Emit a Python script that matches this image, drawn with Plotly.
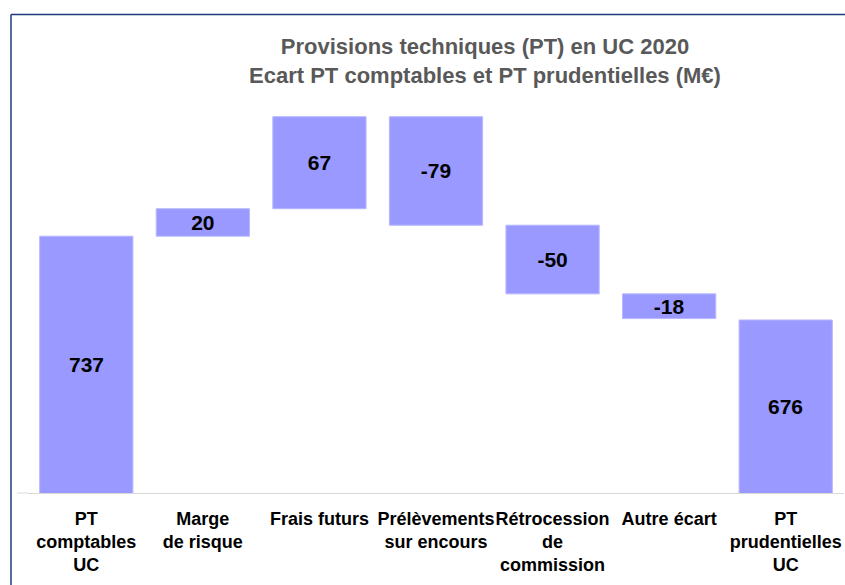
import plotly.graph_objects as go

categories = ["PT<br>comptables<br>UC", "Marge<br>de risque", "Frais futurs",
              "Prélèvements<br>sur encours", "Rétrocession<br>de<br>commission",
              "Autre écart", "PT<br>prudentielles<br>UC"]
measures = ["absolute", "relative", "relative", "relative", "relative", "relative", "absolute"]
values = [737, 20, 67, -79, -50, -18, 676]
labels = ["737", "20", "67", "-79", "-50", "-18", "676"]
y_range = [550, 850]

BAR = "#9999FF"
FONT = "Liberation Sans"
W, H = 845, 585
L, R, T, B = 28, 1, 80.5, 92
pw, ph = W - L - R, H - T - B

def px(x):
    return (x - L) / pw

def py(y):
    return (H - B - y) / ph

textpos = ["none" if m == "absolute" else "inside" for m in measures]
mk = dict(color=BAR, line=dict(color="#b8b8ff", width=1))

fig = go.Figure(go.Waterfall(
    x=categories, y=values, measure=measures,
    text=labels, textposition=textpos, insidetextanchor="middle",
    textangle=0, constraintext="none",
    textfont=dict(family=FONT, size=21, color="black", weight="bold"),
    increasing=dict(marker=mk), decreasing=dict(marker=mk), totals=dict(marker=mk),
    connector=dict(visible=False),
    hoverinfo="x+y",
))

annotations = []
for c, m, v, t in zip(categories, measures, values, labels):
    if m == "absolute":
        annotations.append(dict(x=c, y=(y_range[0] + v) / 2, xref="x", yref="y", text=t,
                                showarrow=False,
                                font=dict(family=FONT, size=21, color="black", weight="bold")))

fig.update_layout(
    width=W, height=H,
    margin=dict(l=L, r=R, t=T, b=B, autoexpand=False),
    paper_bgcolor="white", plot_bgcolor="white",
    showlegend=False, bargap=0.21,
    title=dict(text="Provisions techniques (PT) en UC 2020<br>Ecart PT comptables et PT prudentielles (M€)",
               x=px(485), xref="paper", xanchor="center", y=1 - 54 / H, yanchor="middle",
               font=dict(family=FONT, size=22, color="#595959", weight="bold")),
    xaxis=dict(showgrid=False, showline=True, linecolor="#d9d9d9", linewidth=1,
               ticks="", ticklabelstandoff=9, tickangle=0,
               tickfont=dict(family=FONT, size=18, color="black", weight="bold")),
    yaxis=dict(range=y_range, showgrid=False, showticklabels=False, zeroline=False,
               showline=False, ticks=""),
    annotations=annotations,
    shapes=[
        dict(type="line", xref="paper", yref="paper", x0=px(11), x1=px(846), y0=py(14), y1=py(14),
             line=dict(color="#1F3A7A", width=1.5)),
        dict(type="line", xref="paper", yref="paper", x0=px(11), x1=px(11), y0=py(14), y1=py(586),
             line=dict(color="#1F3A7A", width=1.5)),
        dict(type="line", xref="paper", yref="paper", x0=px(17), x1=0, y0=0, y1=0,
             line=dict(color="#d9d9d9", width=1)),
    ],
)

fig.write_html("out.html", config={"displayModeBar": False},
               post_script="document.body.style.margin='0';document.body.style.overflow='hidden';")
